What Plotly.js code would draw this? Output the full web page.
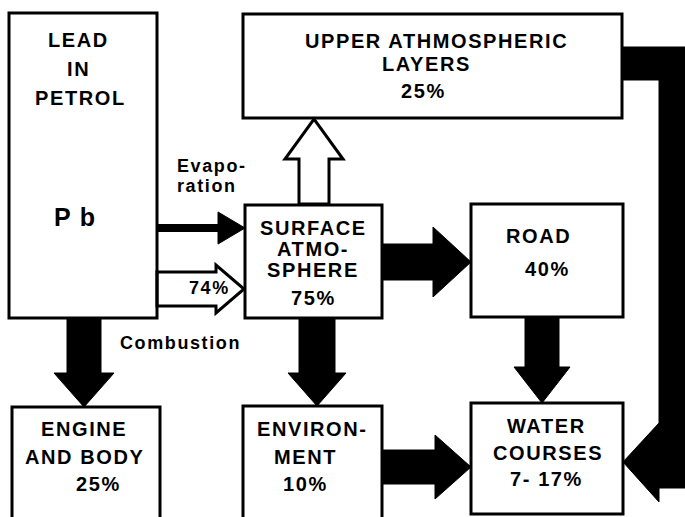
<!DOCTYPE html>
<html>
<head>
<meta charset="utf-8">
<script src="https://cdn.plot.ly/plotly-3.0.1.min.js"></script>
<style>
html,body{margin:0;padding:0;background:#fff;}
#chart{width:685px;height:517px;}
.annotation-text{letter-spacing:1.6px;}
</style>
</head>
<body>
<div id="chart"></div>
<script>
// ---------- data (content only) ----------
const boxNames  = ["lead", "upper", "surface", "road", "engine", "environment", "water"];
const boxLines  = [["LEAD", "IN", "PETROL"], ["UPPER ATHMOSPHERIC", "LAYERS"], ["SURFACE", "ATMO-", "SPHERE"],
                   ["ROAD"], ["ENGINE", "AND BODY"], ["ENVIRON-", "MENT"], ["WATER", "COURSES"]];
const boxShares = ["Pb", "25%", "75%", "40%", "25%", "10%", "7- 17%"];
const flowFrom  = ["lead", "lead", "surface", "surface", "lead", "surface", "road", "environment", "upper"];
const flowTo    = ["surface", "surface", "upper", "road", "engine", "environment", "water", "water", "water"];
const flowLabels = ["Evapo-<br>ration", "74%", "", "", "Combustion", "", "", "", ""];

// ---------- geometry (pixel-like data coordinates) ----------
const boxRect = {
  lead:        [9, 13, 157, 318],
  upper:       [243, 14, 622, 118],
  surface:     [245, 205, 382, 318],
  road:        [471, 204, 623, 317],
  engine:      [12, 407, 160, 540],
  environment: [243, 406, 382, 540],
  water:       [471, 403, 623, 514]
};
const lineY = {
  lead: [40, 69, 98], upper: [41, 64], surface: [228, 249, 270], road: [236],
  engine: [429, 457], environment: [429, 457], water: [426, 453]
};
const lineX = {
  lead: [78, 78, 80], upper: [436, 426], surface: [313, 313, 313], road: [538],
  engine: [84, 84], environment: [312, 305], water: [546, 548]
};
const shareXY = {
  lead: [75, 217, 25], upper: [423, 91, 20], surface: [313, 298, 20], road: [547, 269, 20],
  engine: [98, 484, 20], environment: [305, 484, 20], water: [546, 479, 20]
};
function rightArrow(x0, x1, yc, s, h, l) {
  return `M${x0},${yc-s} L${x1-l},${yc-s} L${x1-l},${yc-h} L${x1},${yc} L${x1-l},${yc+h} L${x1-l},${yc+s} L${x0},${yc+s} Z`;
}
function downArrow(xc, y0, y1, s, h, l) {
  return `M${xc-s},${y0} L${xc-s},${y1-l} L${xc-h},${y1-l} L${xc},${y1} L${xc+h},${y1-l} L${xc+s},${y1-l} L${xc+s},${y0} Z`;
}
function upArrow(xc, y0, y1, s, h, l) {
  return `M${xc-s},${y0} L${xc-s},${y1+l} L${xc-h},${y1+l} L${xc},${y1} L${xc+h},${y1+l} L${xc+s},${y1+l} L${xc+s},${y0} Z`;
}
// label: [x, first-line y, anchor, font size, line step]
const flowGeom = [
  {path: rightArrow(157, 245, 228, 3.5, 16, 27), outline: false, label: [175, 166, "left", 18, 20]},
  {path: rightArrow(157, 244, 289, 17, 24, 28), outline: true,  label: [209, 288, "center", 18, 20]},
  {path: upArrow(314, 204, 119, 15, 29, 40),     outline: true},
  {path: rightArrow(382, 471, 262, 18, 35, 38),  outline: false},
  {path: downArrow(84, 318, 407, 17, 30, 34),    outline: false, label: [118, 343, "left", 18, 20]},
  {path: downArrow(317, 318, 406, 18, 29, 33),   outline: false},
  {path: downArrow(542, 317, 403, 17, 28, 36),   outline: false},
  {path: rightArrow(382, 471, 467, 17, 32, 36),  outline: false},
  {path: "M622,47 L685,47 L685,488 L659,488 L659,502 L623,462 L659,423 L659,80 L622,80 Z", outline: false}
];

// ---------- build ----------
const shapes = [];
const annotations = [];
const FONT = "Liberation Sans, Arial, sans-serif";

flowFrom.forEach((f, i) => {
  const g = flowGeom[i];
  shapes.push({
    type: "path", xref: "x", yref: "y", path: g.path,
    fillcolor: g.outline ? "#ffffff" : "#000000",
    line: {color: "#000000", width: g.outline ? 3 : 1}
  });
  if (flowLabels[i] && g.label) {
    flowLabels[i].split("<br>").forEach((t, j) => {
      annotations.push({
        xref: "x", yref: "y", x: g.label[0], y: g.label[1] + j * g.label[4], text: t,
        showarrow: false, xanchor: g.label[2], yanchor: "middle", align: "left",
        font: {family: FONT, size: g.label[3], color: "#000", weight: "bold"}
      });
    });
  }
});

boxNames.forEach((name, i) => {
  const r = boxRect[name];
  shapes.push({
    type: "rect", xref: "x", yref: "y", x0: r[0], y0: r[1], x1: r[2], y1: r[3],
    line: {color: "#000000", width: 3}, fillcolor: "rgba(0,0,0,0)"
  });
  boxLines[i].forEach((t, j) => {
    annotations.push({
      xref: "x", yref: "y", x: lineX[name][j], y: lineY[name][j], text: t,
      showarrow: false, xanchor: "center", yanchor: "middle",
      font: {family: FONT, size: 20, color: "#000", weight: "bold"}
    });
  });
  const s = shareXY[name];
  const shareText = name === "lead"
    ? '<span style="letter-spacing:9px">' + boxShares[i].slice(0, 1) + '</span>' + boxShares[i].slice(1)
    : boxShares[i];
  annotations.push({
    xref: "x", yref: "y", x: s[0], y: s[1], text: shareText,
    showarrow: false, xanchor: "center", yanchor: "middle",
    font: {family: FONT, size: s[2], color: "#000", weight: "bold"}
  });
});

const layout = {
  width: 685, height: 517,
  margin: {l: 0, r: 0, t: 0, b: 0, pad: 0},
  paper_bgcolor: "#ffffff", plot_bgcolor: "#ffffff",
  showlegend: false,
  xaxis: {range: [0, 685], visible: false, fixedrange: true},
  yaxis: {range: [517, 0], visible: false, fixedrange: true},
  shapes: shapes,
  annotations: annotations
};
Plotly.newPlot("chart", [{type: "scatter", x: [], y: [], hoverinfo: "skip", showlegend: false}], layout,
  {displayModeBar: false, staticPlot: true});
</script>
</body>
</html>
